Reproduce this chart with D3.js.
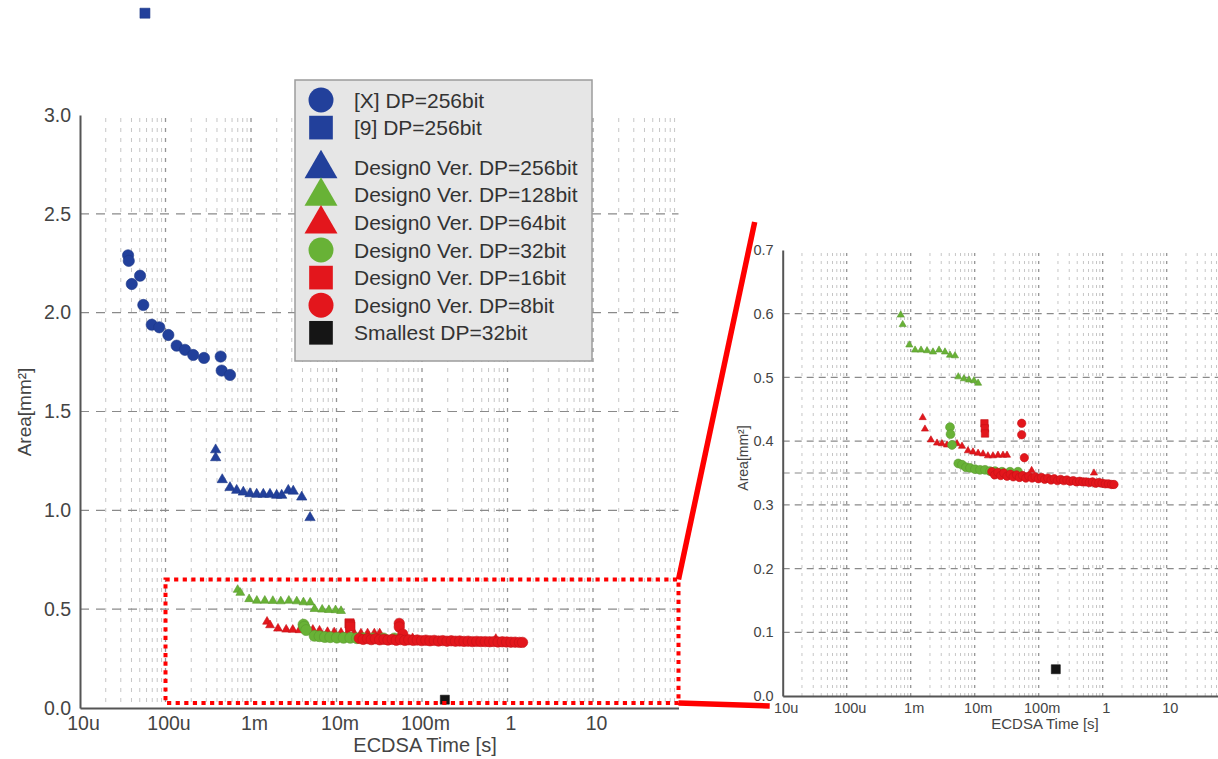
<!DOCTYPE html>
<html>
<head>
<meta charset="utf-8">
<script src="https://cdn.jsdelivr.net/npm/d3@7"></script>
<style>
  body { margin: 0; background: #fff; }
  svg { display: block; }
  text { font-family: "Liberation Sans", Arial, Helvetica, sans-serif; }
</style>
</head>
<body>
<svg id="chart" width="1218" height="759"></svg>
<script>
// ECDSA execution time [s] versus circuit area [mm²] for several datapath widths.
// Each point: [time in seconds, area in mm²].

const xTickValues = [1e-5, 1e-4, 1e-3, 1e-2, 1e-1, 1, 10];
const xTickLabels = ["10u", "100u", "1m", "10m", "100m", "1", "10"];
const yTicksFull = [0, 0.5, 1.0, 1.5, 2.0, 2.5, 3.0];
const yGridFull = [0.5, 1.0, 1.5, 2.0, 2.5];
const yTicksZoom = [0, 0.1, 0.2, 0.3, 0.4, 0.5, 0.6, 0.7];
const yGridZoom = [0.1, 0.2, 0.3, 0.35, 0.4, 0.5, 0.6];

const refX256 = [
  [36.5e-6, 2.290], [37.2e-6, 2.262], [40.3e-6, 2.145], [50.4e-6, 2.187], [55.0e-6, 2.039],
  [69.0e-6, 1.939], [84.6e-6, 1.926], [108e-6, 1.887], [135e-6, 1.833], [169e-6, 1.812],
  [211e-6, 1.786], [282e-6, 1.771], [442e-6, 1.778], [454e-6, 1.707], [568e-6, 1.685]
];
const ref9_256 = [[57.5e-6, 3.515]];
const design256 = [
  [386e-6, 1.306], [386e-6, 1.266], [461e-6, 1.155], [568e-6, 1.115], [680e-6, 1.101],
  [813e-6, 1.092], [974e-6, 1.084], [1.166e-3, 1.081], [1.394e-3, 1.081], [1.667e-3, 1.081],
  [1.995e-3, 1.076], [2.285e-3, 1.076], [2.73e-3, 1.101], [3.12e-3, 1.097], [3.92e-3, 1.067],
  [4.90e-3, 0.963]
];
const design128 = [
  [698e-6, 0.598], [750e-6, 0.583], [951e-6, 0.551], [1.17e-3, 0.543], [1.45e-3, 0.543],
  [1.80e-3, 0.542], [2.23e-3, 0.540], [2.77e-3, 0.543], [3.43e-3, 0.540], [4.11e-3, 0.535],
  [4.92e-3, 0.534], [5.54e-3, 0.501], [6.80e-3, 0.498], [8.15e-3, 0.496], [9.75e-3, 0.495],
  [11.3e-3, 0.491]
];
const design64 = [
  [1.54e-3, 0.437], [1.67e-3, 0.419], [2.07e-3, 0.402], [2.58e-3, 0.397], [3.08e-3, 0.396],
  [3.69e-3, 0.394], [4.42e-3, 0.394], [5.29e-3, 0.396], [6.33e-3, 0.392], [7.85e-3, 0.385],
  [9.4e-3, 0.383], [11.3e-3, 0.381], [13.5e-3, 0.380], [16.1e-3, 0.377], [19.3e-3, 0.377],
  [23.1e-3, 0.378], [27.7e-3, 0.378], [32e-3, 0.378], [77.6e-3, 0.354], [0.73, 0.350]
];
const design32 = [
  [4.11e-3, 0.422], [4.19e-3, 0.411], [4.42e-3, 0.394], [5.54e-3, 0.365], [6.33e-3, 0.363],
  [7.31e-3, 0.359], [8.45e-3, 0.358], [10.1e-3, 0.356], [12.1e-3, 0.355], [14.5e-3, 0.355],
  [17.3e-3, 0.353], [20.7e-3, 0.353], [26.7e-3, 0.352], [35.6e-3, 0.352], [47.5e-3, 0.352]
];
const design16 = [[14.2e-3, 0.428], [14.4e-3, 0.420], [14.5e-3, 0.412]];
const design8 = [
  [54.2e-3, 0.428], [54.2e-3, 0.410], [59.6e-3, 0.374],
  [18.5e-3, 0.352], [20.5e-3, 0.347], [23e-3, 0.351], [25.5e-3, 0.346], [28.5e-3, 0.350],
  [32e-3, 0.345], [36e-3, 0.348], [40e-3, 0.344], [45e-3, 0.347], [50e-3, 0.343],
  [56e-3, 0.346], [63e-3, 0.342], [70e-3, 0.345], [79e-3, 0.342], [88e-3, 0.344],
  [99e-3, 0.341], [0.111, 0.343], [0.124, 0.340], [0.139, 0.342], [0.156, 0.339],
  [0.175, 0.341], [0.196, 0.338], [0.22, 0.340], [0.246, 0.338], [0.276, 0.339],
  [0.31, 0.337], [0.347, 0.338], [0.39, 0.336], [0.437, 0.337], [0.49, 0.336],
  [0.55, 0.336], [0.617, 0.335], [0.692, 0.336], [0.776, 0.334], [0.87, 0.335],
  [0.977, 0.334], [1.1, 0.333], [1.23, 0.333], [1.38, 0.332], [1.5, 0.332]
];
const smallest32 = [[0.185, 0.042]];

const seriesLabels = [
  "[X] DP=256bit", "[9] DP=256bit",
  "Design0 Ver. DP=256bit", "Design0 Ver. DP=128bit", "Design0 Ver. DP=64bit",
  "Design0 Ver. DP=32bit", "Design0 Ver. DP=16bit", "Design0 Ver. DP=8bit",
  "Smallest DP=32bit"
];

const BLUE = "#22409b", GREEN = "#68b236", RED = "#e3161c", BLACK = "#151515";

// marker shape and base size (area in px², full-range panel)
const series = [
  { data: refX256,    shape: "circle",   color: BLUE,  size: 100 },
  { data: ref9_256,   shape: "square",   color: BLUE,  size: 100 },
  { data: design256,  shape: "triangle", color: BLUE,  size: 46 },
  { data: design128,  shape: "triangle", color: GREEN, size: 34 },
  { data: design64,   shape: "triangle", color: RED,   size: 34 },
  { data: design32,   shape: "circle",   color: GREEN, size: 95 },
  { data: design16,   shape: "square",   color: RED,   size: 85 },
  { data: design8,    shape: "circle",   color: RED,   size: 85 },
  { data: smallest32, shape: "square",   color: BLACK, size: 81 }
].map((s, i) => ({ ...s, label: seriesLabels[i] }));

const symbolType = { circle: d3.symbolCircle, square: d3.symbolSquare, triangle: d3.symbolTriangle };

const svg = d3.select("#chart");
svg.append("rect").attr("width", 1218).attr("height", 759).attr("fill", "#fff");

const panels = [
  { left: 80, right: 678.5, top: 115, bottom: 708, yMax: 3.0,
    yTicks: yTicksFull, yGrid: yGridFull, tickFont: 19.5, titleFont: 20, yTitleFont: 19,
    markScale: 1.0, blackScale: 1.0, dash: "9 7", vdash: "4 6",
    xTitle: [425, 752], yTitle: [24, 412], xTickDy: 22, clipTop: false },
  { left: 782.7, right: 1230.7, top: 250, bottom: 696, yMax: 0.7,
    yTicks: yTicksZoom, yGrid: yGridZoom, tickFont: 14.5, titleFont: 15, yTitleFont: 14,
    markScale: 0.65, blackScale: 1.0, dash: "7 5", vdash: "3 5",
    xTitle: [1045, 729], yTitle: [743, 458], xTickDy: 17, clipTop: true }
];

function drawPanel(p) {
  const g = svg.append("g");
  const x = d3.scaleLog().domain([1e-5, 100]).range([p.left, p.right]);
  const y = d3.scaleLinear().domain([0, p.yMax]).range([p.bottom, p.top]);
  p.x = x; p.y = y;

  // minor and major vertical grid
  const minor = [], major = [];
  for (let e = -5; e <= 1; e++) {
    for (let k = 1; k <= 9; k++) {
      const v = k * Math.pow(10, e);
      if (k === 1) { if (e > -5) major.push(v); } else minor.push(v);
    }
  }
  g.append("g").selectAll("line").data(minor).join("line")
    .attr("x1", d => x(d)).attr("x2", d => x(d))
    .attr("y1", p.top + 3).attr("y2", p.bottom)
    .attr("stroke", "#c6c6c6").attr("stroke-width", 1).attr("stroke-dasharray", p.vdash);
  g.append("g").selectAll("line").data(major).join("line")
    .attr("x1", d => x(d)).attr("x2", d => x(d))
    .attr("y1", p.top + 3).attr("y2", p.bottom)
    .attr("stroke", "#949494").attr("stroke-width", 1.3).attr("stroke-dasharray", p.vdash);
  g.append("g").selectAll("line").data(p.yGrid).join("line")
    .attr("x1", p.left).attr("x2", p.right)
    .attr("y1", d => y(d)).attr("y2", d => y(d))
    .attr("stroke", "#8a8a8a").attr("stroke-width", 1.2).attr("stroke-dasharray", p.dash);

  // axes
  const yAxis = d3.axisLeft(y).tickValues(p.yTicks).tickFormat(d3.format(".1f"))
    .tickSize(0).tickPadding(9);
  const ya = g.append("g").attr("transform", `translate(${p.left},0)`).call(yAxis);
  ya.select(".domain").attr("stroke", "#555").attr("stroke-width", 2);
  ya.selectAll("text").attr("font-size", p.tickFont).attr("fill", "#444")
    .attr("font-family", '"Liberation Sans", Arial, sans-serif');

  const xAxis = d3.axisBottom(x).tickValues(xTickValues)
    .tickFormat((d, i) => xTickLabels[i]).tickSize(0).tickPadding(0);
  const xa = g.append("g").attr("transform", `translate(0,${p.bottom})`).call(xAxis);
  xa.select(".domain").attr("stroke", "#555").attr("stroke-width", 2);
  xa.selectAll("text").attr("font-size", p.tickFont).attr("fill", "#444")
    .attr("dy", p.xTickDy).attr("dx", 3)
    .attr("font-family", '"Liberation Sans", Arial, sans-serif');

  g.append("text").attr("x", p.xTitle[0]).attr("y", p.xTitle[1])
    .attr("text-anchor", "middle").attr("font-size", p.titleFont).attr("fill", "#444")
    .text("ECDSA Time [s]");
  g.append("text")
    .attr("transform", `translate(${p.yTitle[0]},${p.yTitle[1]}) rotate(-90)`)
    .attr("text-anchor", "middle").attr("dy", "0.35em")
    .attr("font-size", p.yTitleFont).attr("fill", "#444")
    .text("Area[mm²]");
  return g;
}

function drawMarks(p, g) {
  series.forEach(s => {
    const scale = s.color === BLACK ? p.blackScale : p.markScale;
    const pts = p.clipTop ? s.data.filter(d => d[1] <= p.yMax) : s.data;
    g.append("g").selectAll("path").data(pts).join("path")
      .attr("transform", d => `translate(${p.x(d[0])},${p.y(d[1])})`)
      .attr("d", d3.symbol(symbolType[s.shape], s.size * scale))
      .attr("fill", s.color)
      .attr("stroke", d3.color(s.color).darker(0.4))
      .attr("stroke-width", 0.6);
  });
}

const gFull = drawPanel(panels[0]);
const gZoom = drawPanel(panels[1]);

// zoom-region outline on the full-range panel
const pf = panels[0], pz = panels[1];
svg.append("rect")
  .attr("x", pf.x(1e-4)).attr("y", pf.y(0.65))
  .attr("width", pf.x(100) - pf.x(1e-4)).attr("height", pf.y(0.025) - pf.y(0.65))
  .attr("fill", "none").attr("stroke", "#ff0000").attr("stroke-width", 4)
  .attr("stroke-dasharray", "4.2 4.4");

drawMarks(pf, gFull);
drawMarks(pz, gZoom);

// connectors from the outline to the zoomed panel
const connectors = [
  [[pf.x(100), pf.y(0.65)], [pz.x(1e-5) - 28, pz.y(0.7) - 28]],
  [[pf.x(100), pf.y(0.025)], [pz.x(1e-5) - 13, pz.y(0) + 10]]
];
svg.append("g").selectAll("line").data(connectors).join("line")
  .attr("x1", d => d[0][0]).attr("y1", d => d[0][1])
  .attr("x2", d => d[1][0]).attr("y2", d => d[1][1])
  .attr("stroke", "#ff0000").attr("stroke-width", 5.5);

// legend
const lg = svg.append("g");
lg.append("rect").attr("x", 295).attr("y", 80).attr("width", 297).attr("height", 281)
  .attr("fill", "#e6e6e6").attr("stroke", "#9c9c9c").attr("stroke-width", 1.5);
const legendY = (i) => 100 + i * 27.6 + (i >= 2 ? 12 : 0);
const legendSize = { circle: 490, square: 560, triangle: 470 };
series.forEach((s, i) => {
  lg.append("path")
    .attr("transform", `translate(321,${legendY(i) + (s.shape === "triangle" ? 1.5 : 0)})`)
    .attr("d", d3.symbol(symbolType[s.shape], legendSize[s.shape]))
    .attr("fill", s.color);
  lg.append("text").attr("x", 354).attr("y", legendY(i)).attr("dy", "0.36em")
    .attr("font-size", 21).attr("fill", "#333").text(s.label);
});
</script>
</body>
</html>
